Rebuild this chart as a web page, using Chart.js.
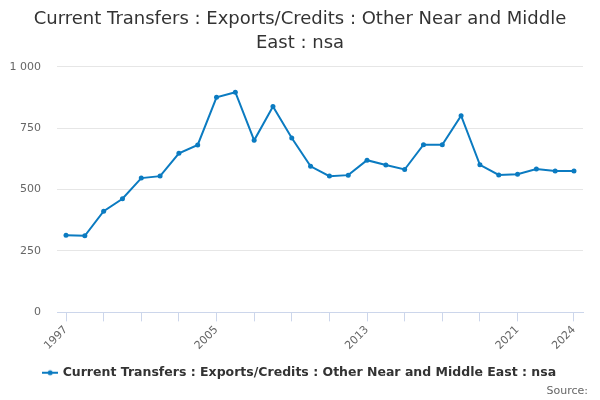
<!DOCTYPE html>
<html>
<head>
<meta charset="utf-8">
<script src="https://cdn.jsdelivr.net/npm/chart.js@4/dist/chart.umd.min.js"></script>
<style>
  html, body { margin: 0; padding: 0; background: #fff; }
  #wrap { width: 600px; height: 400px; }
</style>
</head>
<body>
<div id="wrap"><canvas id="c"></canvas></div>
<script>
/* Current Transfers : Exports/Credits : Other Near and Middle East : nsa */

const years = [1997, 1998, 1999, 2000, 2001, 2002, 2003, 2004, 2005, 2006,
  2007, 2008, 2009, 2010, 2011, 2012, 2013, 2014, 2015, 2016,
  2017, 2018, 2019, 2020, 2021, 2022, 2023, 2024];
const values = [314, 312, 412, 463, 547, 555, 648, 682, 876, 897,
  701, 839, 710, 595, 555, 559, 620, 600, 582, 683,
  683, 801, 601, 560, 563, 584, 576, 576];
const tickYears = [1997, 1999, 2001, 2003, 2005, 2007, 2009, 2011, 2013,
  2015, 2017, 2019, 2021, 2024];
const labelYears = [1997, 2005, 2013, 2021, 2024];
const yTicks = [0, 250, 500, 750, 1000];

const seriesName = "Current Transfers : Exports/Credits : Other Near and Middle East : nsa";
const LINE = "#0b7bc1";

// legend marker: short line with a dot in the middle
function legendMarker() {
  const c = document.createElement("canvas");
  c.width = 16; c.height = 8;
  const g = c.getContext("2d");
  g.strokeStyle = LINE; g.lineWidth = 2;
  g.beginPath(); g.moveTo(0, 4); g.lineTo(16, 4); g.stroke();
  g.fillStyle = LINE;
  g.beginPath(); g.arc(8, 4, 2.5, 0, Math.PI * 2); g.fill();
  return c;
}

// "Source:" credit, bottom right
const sourceNote = {
  id: "sourceNote",
  afterDraw(chart) {
    const ctx = chart.ctx;
    ctx.save();
    ctx.font = "11px 'DejaVu Sans', sans-serif";
    ctx.fillStyle = "#666";
    ctx.textAlign = "right";
    ctx.textBaseline = "middle";
    ctx.fillText("Source:", 588, 391);
    ctx.restore();
  },
};

Chart.defaults.font.family = "'DejaVu Sans', sans-serif";
Chart.defaults.color = "#666";

new Chart(document.getElementById("c"), {
  type: "line",
  data: {
    datasets: [{
      label: seriesName,
      data: years.map((y, i) => ({ x: y, y: values[i] })),
      borderColor: LINE,
      backgroundColor: LINE,
      borderWidth: 2,
      pointRadius: 2.5,
      pointBorderWidth: 0,
      pointStyle: "circle",
      tension: 0,
    }],
  },
  options: {
    responsive: true,
    maintainAspectRatio: false,
    animation: false,
    layout: { padding: { left: 0, right: 0, top: 0, bottom: 11 } },
    plugins: {
      title: {
        display: true,
        text: ["Current Transfers : Exports/Credits : Other Near and Middle", "East : nsa"],
        color: "#333",
        font: { size: 18, weight: "normal", lineHeight: 1.33 },
        padding: { top: 7, bottom: 12 },
      },
      legend: {
        position: "bottom",
        labels: {
          color: "#333",
          font: { size: 12.5, weight: "bold" },
          usePointStyle: true,
          pointStyle: legendMarker(),
          padding: 12,
        },
      },
      tooltip: { enabled: false },
    },
    scales: {
      x: {
        type: "linear",
        min: 1996.52,
        max: 2024.48,
        afterBuildTicks: s => { s.ticks = tickYears.map(v => ({ value: v })); },
        ticks: {
          autoSkip: false,
          minRotation: 45,
          maxRotation: 45,
          color: "#666",
          font: { size: 11 },
          padding: 2,
          callback: v => (labelYears.includes(v) ? String(v) : ""),
        },
        grid: { drawOnChartArea: false, drawTicks: true, tickLength: 9, color: "#ccd6eb" },
        border: { color: "#ccd6eb" },
      },
      y: {
        min: 0,
        max: 1000,
        afterBuildTicks: s => { s.ticks = yTicks.map(v => ({ value: v })); },
        afterFit: s => { s.width = 57; },
        ticks: {
          color: "#666",
          font: { size: 11 },
          padding: 16,
          callback: v => String(v).replace(/\B(?=(\d{3})+(?!\d))/g, " "),
        },
        grid: { color: "#e6e6e6", drawTicks: false },
        border: { display: false },
      },
      // empty right-hand gutter so the plot stops short of the edge
      gutter: {
        position: "right",
        display: true,
        afterFit: s => { s.width = 17; },
        ticks: { display: false },
        grid: { display: false },
        border: { display: false },
      },
    },
  },
  plugins: [sourceNote],
});
</script>
</body>
</html>
